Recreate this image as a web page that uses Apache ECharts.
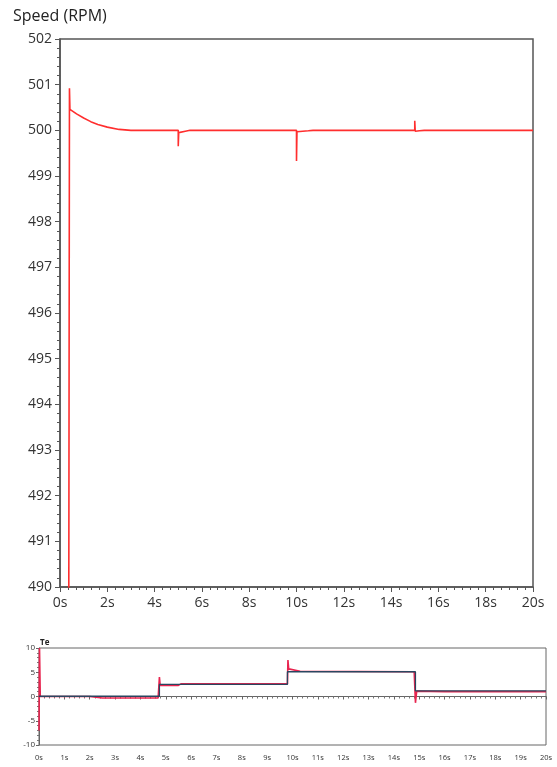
<!DOCTYPE html>
<html><head><meta charset="utf-8">
<script src="https://cdn.jsdelivr.net/npm/echarts@6/dist/echarts.min.js"></script>
<style>html,body{margin:0;padding:0;background:#fff;}#c{width:557px;height:767px;}</style>
</head><body><div id="c"></div>
<script>
// Speed (RPM) readings: time in s, value in RPM
var speedTime  = [0.37, 0.40, 0.42, 0.7, 1.0, 1.3, 1.6, 2.0, 2.5, 3.0, 5.0, 5.0, 5.02, 5.3, 5.5, 10.0, 10.0, 10.02, 10.5, 10.7, 15.0, 15.0, 15.02, 15.2, 15.4, 20.0];
var speedValue = [489.0, 500.92, 500.46, 500.36, 500.27, 500.19, 500.13, 500.07, 500.02, 500.0, 500.0, 499.65, 499.95, 499.98, 500.0, 500.0, 499.33, 499.97, 499.99, 500.0, 500.0, 500.21, 499.98, 499.99, 500.0, 500.0];
var speedTicks = {min: 490, max: 502, step: 1, tMin: 0, tMax: 20, tStep: 2};

// Te (torque) readings
var teRefTime  = [0, 4.75, 4.75, 9.8, 9.8, 14.85, 14.85, 20];
var teRefValue = [0.05, 0.05, 2.5, 2.5, 5.1, 5.1, 1.15, 1.15];
var teActTime  = [0, 0.02, 0.05, 2.0, 2.5, 4.7, 4.75, 4.78, 5.5, 5.6, 9.8, 9.82, 9.85, 10.3, 14.8, 14.85, 14.9, 16.0, 20];
var teActValue = [-7, 10, 0, 0, -0.3, -0.3, 4.0, 2.3, 2.3, 2.6, 2.6, 7.5, 5.7, 5.2, 5.1, -1.3, 1.1, 1.0, 1.0];
var teTicks = {min: -10, max: 10, step: 5, tMin: 0, tMax: 20, tStep: 1};

function pairs(a, b){ return a.map(function(t,i){ return [t, b[i]]; }); }

var chart = echarts.init(document.getElementById('c'));
var FONT = '"Open Sans","Noto Sans",sans-serif';
var axisCol = '#555';
chart.setOption({
  animation: false,
  title: [
    {text: 'Speed (RPM)', left: 8, top: 3, textStyle: {fontFamily: FONT, fontSize: 16, fontWeight: 'normal', color: '#222'}},
    {text: 'Te', left: 35, top: 634, textStyle: {fontFamily: FONT, fontSize: 8, fontWeight: 'bold', color: '#222'}}
  ],
  grid: [
    {left: 60, top: 39, width: 473, height: 548, show: true, borderColor: axisCol, borderWidth: 1.5, backgroundColor: '#fff'},
    {left: 39, top: 648, width: 507, height: 97, show: true, borderColor: '#666', borderWidth: 1, backgroundColor: '#fff'}
  ],
  xAxis: [
    {type: 'value', gridIndex: 0, min: speedTicks.tMin, max: speedTicks.tMax, interval: speedTicks.tStep,
     axisLine: {show: true, lineStyle: {color: axisCol, width: 1.5}},
     axisTick: {show: true, length: 5, lineStyle: {color: axisCol}},
     minorTick: {show: true, splitNumber: 6, length: 3, lineStyle: {color: axisCol}},
     splitLine: {show: false},
     axisLabel: {formatter: '{value}s', fontFamily: FONT, fontSize: 14, color: '#333', margin: 9}},
    {type: 'value', gridIndex: 1, min: teTicks.tMin, max: teTicks.tMax, interval: teTicks.tStep,
     axisLine: {show: true, lineStyle: {color: '#666', width: 1}},
     axisTick: {show: true, length: 3, lineStyle: {color: '#666'}},
     minorTick: {show: true, splitNumber: 5, length: 2, lineStyle: {color: '#777'}},
     splitLine: {show: false},
     axisLabel: {formatter: '{value}s', fontFamily: FONT, fontSize: 7.5, color: '#333', margin: 9}},
  ],
  yAxis: [
    {type: 'value', gridIndex: 0, min: speedTicks.min, max: speedTicks.max, interval: speedTicks.step,
     axisLine: {show: true, lineStyle: {color: axisCol, width: 1.5}},
     axisTick: {show: true, length: 5, lineStyle: {color: axisCol}},
     minorTick: {show: true, splitNumber: 5, length: 3, lineStyle: {color: axisCol}},
     splitLine: {show: false},
     axisLabel: {fontFamily: FONT, fontSize: 14, color: '#333', margin: 8}},
    {type: 'value', gridIndex: 1, min: teTicks.min, max: teTicks.max, interval: teTicks.step,
     axisLine: {show: true, lineStyle: {color: '#666', width: 1}},
     axisTick: {show: true, length: 3, lineStyle: {color: '#666'}},
     minorTick: {show: true, splitNumber: 5, length: 2, lineStyle: {color: '#777'}},
     splitLine: {show: false},
     axisLabel: {fontFamily: FONT, fontSize: 8, color: '#333', margin: 4}}
  ],
  series: [
    {type: 'line', xAxisIndex: 0, yAxisIndex: 0, data: pairs(speedTime, speedValue), showSymbol: false, clip: true,
     lineStyle: {color: '#ff2e2e', width: 1.6}},
    {type: 'line', xAxisIndex: 1, yAxisIndex: 1, data: pairs(teActTime, teActValue), showSymbol: false, clip: true,
     lineStyle: {color: '#e8244f', width: 1.6}},
    {type: 'line', xAxisIndex: 1, yAxisIndex: 1, data: pairs(teRefTime, teRefValue), showSymbol: false, clip: true,
     lineStyle: {color: '#2a4660', width: 1.3}}
  ]
});
</script></body></html>
